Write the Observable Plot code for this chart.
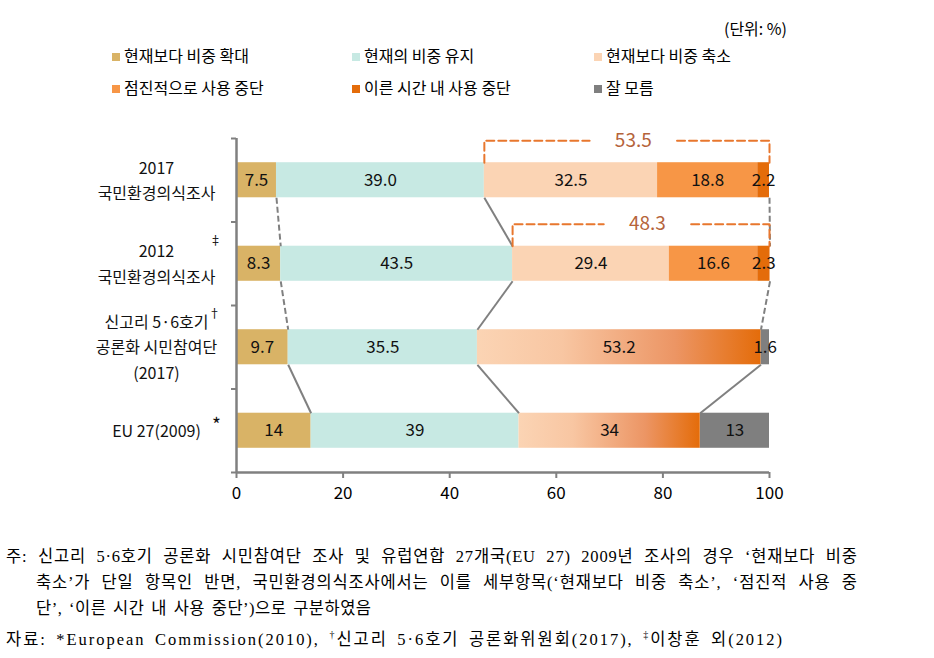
<!DOCTYPE html>
<html><head><meta charset="utf-8">
<script src="https://cdn.jsdelivr.net/npm/d3@7"></script>
<script src="https://cdn.jsdelivr.net/npm/@observablehq/plot@0.6"></script>
<style>
body{margin:0;background:#fff;font-family:"Noto Sans CJK KR",sans-serif;color:#000;}
#wrap{position:relative;width:934px;height:658px;overflow:hidden;}
#unit{position:absolute;top:18px;right:147px;font-size:16px;line-height:20px;}
.leg{position:absolute;font-size:16px;line-height:20px;white-space:nowrap;}
.leg i{display:inline-block;width:8px;height:8px;margin-right:4px;vertical-align:middle;position:relative;top:-1px;}
#chart{position:absolute;left:0;top:100px;}
#notes{position:absolute;left:6px;top:544px;font-family:"Liberation Serif","Noto Sans CJK KR",serif;font-size:16.5px;line-height:26px;}
#notes div{white-space:nowrap;}
#notes span{display:inline-block;}
</style></head>
<body><div id="wrap">
<div id="unit">(단위: %)</div>
<div id="legend"></div>
<div id="chart"></div>
<div id="notes">
<div><span data-w="851" data-ws="0.6">주: 신고리 5·6호기 공론화 시민참여단 조사 및 유럽연합 27개국(EU 27) 2009년 조사의 경우 ‘현재보다 비중</span></div>
<div style="margin-left:30px"><span data-w="821" data-ws="0.6">축소’가 단일 항목인 반면, 국민환경의식조사에서는 이를 세부항목(‘현재보다 비중 축소’, ‘점진적 사용 중</span></div>
<div style="margin-left:30px"><span data-w="335" data-ws="0.5">단’, ‘이른 시간 내 사용 중단’)으로 구분하였음</span></div>
<div><span data-w="776" data-ws="0.15">자료: *European Commission(2010), <sup style="font-size:10px">†</sup>신고리 5·6호기 공론화위원회(2017), <sup style="font-size:10px">‡</sup>이창훈 외(2012)</span></div>
</div>
</div>
<script>
// ---- data ----
const categories = ["현재보다 비중 확대","현재의 비중 유지","현재보다 비중 축소","점진적으로 사용 중단","이른 시간 내 사용 중단","잘 모름"];
const colors = ["#D9B366","#C7E9E3","#FBD4B4","#F79646","#E46C0A","#7F7F7F"];
const surveys = ["2017\n국민환경의식조사","2012\n국민환경의식조사","신고리 5·6호기\n공론화 시민참여단\n(2017)","EU 27(2009)"];
const surveyMarks = ["", "‡", "†", "*"];
const detailCats = ["현재보다 비중 확대","현재의 비중 유지","현재보다 비중 축소","점진적으로 사용 중단","이른 시간 내 사용 중단"];
const mergedCats = ["현재보다 비중 확대","현재의 비중 유지","현재보다 비중 축소(통합)","잘 모름"];
const v2017 = [7.5, 39.0, 32.5, 18.8, 2.2];
const v2012 = [8.3, 43.5, 29.4, 16.6, 2.3];
const vShingori = [9.7, 35.5, 53.2, 1.6];
const vEU = [14, 39, 34, 13];
const bracketTotals = [53.5, 48.3];
const xTicks = [0, 20, 40, 60, 80, 100];

// ---- build table ----
const rowsData = [
  {cats: detailCats, vals: v2017, fmt: ".1f", groupEnd: 5},
  {cats: detailCats, vals: v2012, fmt: ".1f", groupEnd: 5},
  {cats: mergedCats, vals: vShingori, fmt: ".1f", groupEnd: 3},
  {cats: mergedCats, vals: vEU, fmt: "d", groupEnd: 3}
];
const segs = [];
const bounds = [];
rowsData.forEach((r, i) => {
  let acc = 0; const cum = [0];
  r.vals.forEach((v, j) => {
    segs.push({row: i, cat: r.cats[j], x1: acc, x2: acc + v, label: d3.format(r.fmt)(v), merged: r.cats[j].endsWith("(통합)")});
    acc += v; cum.push(acc);
  });
  bounds.push([cum[1], cum[2], cum[r.groupEnd]]);
});
const H = 0.21; // half bar thickness in row units
const links = [];
for (let i = 0; i < 3; i++) for (let k = 0; k < 3; k++) {
  links.push({x1: bounds[i][k], y1: i + H, x2: bounds[i+1][k], y2: i + 1 - H, dashed: i < 2 && k !== 1});
}
const bracketPts = [];
const bracketLabels = [];
bracketTotals.forEach((t, i) => {
  const s = bounds[i][1], e = 100, yb = i - 0.474, yt = i - H;
  const c = (s + e) / 2 + 1.2;
  bracketPts.push({seg: i + "a", x: s, y: yt}, {seg: i + "a", x: s, y: yb}, {seg: i + "a", x: c - 8.2, y: yb});
  bracketPts.push({seg: i + "b", x: c + 8.2, y: yb}, {seg: i + "b", x: e, y: yb}, {seg: i + "b", x: e, y: yt});
  bracketLabels.push({x: c, y: yb, text: d3.format(".1f")(t)});
});

// ---- legend ----
const legCols = [112, 352, 594], legRows = [45, 77];
const legend = document.getElementById("legend");
categories.forEach((c, i) => {
  const d = document.createElement("div");
  d.className = "leg";
  d.style.left = legCols[i % 3] + "px";
  d.style.top = legRows[Math.floor(i / 3)] + "px";
  d.innerHTML = `<i style="background:${colors[i]}"></i>${c}`;
  legend.appendChild(d);
});

// superscript offsets (px) relative to each row label
const supOffsets = [null, {dx: -21, dy: -23, size: 12}, {dx: -22, dy: -33, size: 12}, {dx: -20, dy: -5, size: 19}];
const supMarks = surveyMarks.map((m, i) => m && Plot.text([m], {x: 0, y: () => i, text: d => d, dx: supOffsets[i].dx, dy: supOffsets[i].dy, fontSize: supOffsets[i].size, textAnchor: "middle", fill: "#111"})).filter(Boolean);

// ---- chart ----
const plot = Plot.plot({
  width: 934, height: 406,
  marginTop: 38, marginBottom: 34, marginLeft: 236, marginRight: 165,
  style: {fontFamily: '"Noto Sans CJK KR", sans-serif', fontSize: "16px", color: "#000", overflow: "visible", background: "transparent"},
  x: {domain: [0, 100]},
  y: {domain: [-0.5, 3.5], reverse: true},
  color: {domain: categories, range: colors},
  marks: [
    Plot.rect(segs.filter(d => !d.merged), {x1: "x1", x2: "x2", y1: d => d.row - H, y2: d => d.row + H, fill: "cat"}),
    Plot.rect(segs.filter(d => d.merged), {x1: "x1", x2: "x2", y1: d => d.row - H, y2: d => d.row + H, fill: "url(#redGrad)"}),
    Plot.link(links.filter(d => d.dashed), {x1: "x1", y1: "y1", x2: "x2", y2: "y2", stroke: "#808080", strokeWidth: 2, strokeDasharray: "6,3"}),
    Plot.link(links.filter(d => !d.dashed), {x1: "x1", y1: "y1", x2: "x2", y2: "y2", stroke: "#808080", strokeWidth: 2}),
    Plot.text(segs, {x: d => (d.x1 + d.x2) / 2, y: "row", text: "label", fontSize: 17, fill: "#111"}),
    Plot.line(bracketPts, {x: "x", y: "y", z: "seg", stroke: "#E8772E", strokeWidth: 2, strokeDasharray: "8,4", curve: "linear"}),
    Plot.text(bracketLabels, {x: "x", y: "y", text: "text", fontSize: 19, fill: "#B5633A"}),
    Plot.ruleX([0], {stroke: "#808080", strokeWidth: 2.5}),
    Plot.ruleY([3.5], {stroke: "#808080", strokeWidth: 2.5}),
    Plot.axisX({ticks: xTicks, tickSize: 6, tickPadding: 8, stroke: "#808080", strokeWidth: 2, fill: "#000", fontSize: 17, label: null}),
    Plot.axisY({ticks: [-0.5, 0.5, 1.5, 2.5, 3.5], tickSize: 5, tickFormat: () => "", stroke: "#808080", strokeWidth: 2, label: null}),
    Plot.text(surveys, {x: 0, y: (d, i) => i, text: d => d, dx: -80, dy: -2, textAnchor: "middle", lineHeight: 1.6, fontSize: 16, fill: "#111"}),
    ...supMarks
  ]
});
const defs = d3.select(plot).insert("defs", ":first-child");
const lg = defs.append("linearGradient").attr("id", "redGrad").attr("x1", "0").attr("x2", "1").attr("y1", "0").attr("y2", "0");
[[0, "#FBD4B4"], [0.3, "#F8C6A2"], [0.7, "#EC9564"], [1, "#E46C0A"]].forEach(([o, c]) => lg.append("stop").attr("offset", o).attr("stop-color", c));
document.getElementById("chart").appendChild(plot);

// fit note lines to the reference widths
document.querySelectorAll("#notes span[data-w]").forEach(s => {
  const target = +s.dataset.w, ws = +s.dataset.ws;
  const w = s.getBoundingClientRect().width;
  const txt = s.textContent;
  const n = Array.from(txt).length - 1;
  const spaces = (txt.match(/ /g) || []).length;
  const extra = target - w;
  s.style.wordSpacing = (extra * ws / spaces) + "px";
  s.style.letterSpacing = (extra * (1 - ws) / n) + "px";
});
</script>
</body></html>
